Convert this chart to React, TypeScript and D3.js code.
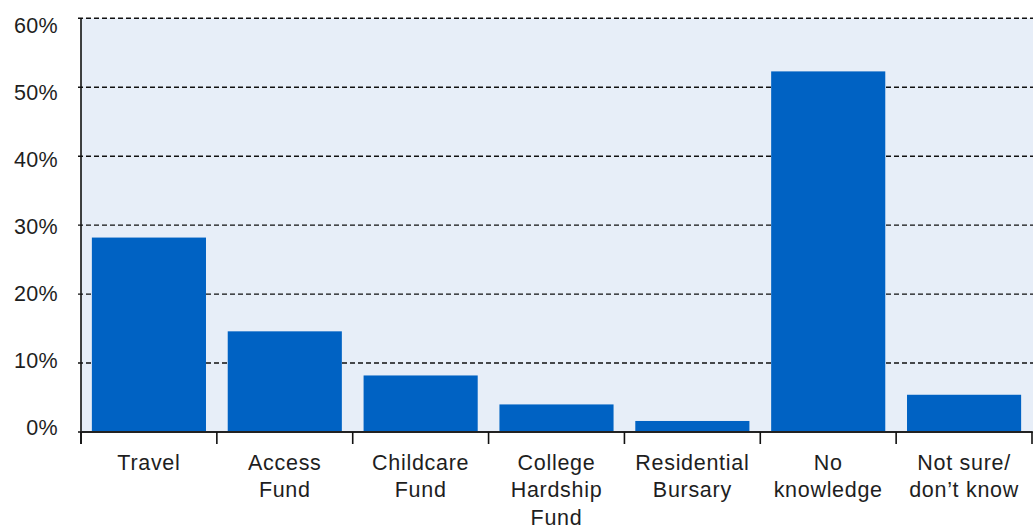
import React from "react";
import * as d3 from "d3";

const categories: string[][] = [
  ["Travel"],
  ["Access", "Fund"],
  ["Childcare", "Fund"],
  ["College", "Hardship", "Fund"],
  ["Residential", "Bursary"],
  ["No", "knowledge"],
  ["Not sure/", "don\u2019t know"],
];
const values: number[] = [28.2, 14.6, 8.2, 4.0, 1.6, 52.3, 5.4];
const yTicks: number[] = [0, 10, 20, 30, 40, 50, 60];

const W = 1033;
const H = 529;
const left = 81;
const right = 1032;
const top = 18.3;
const bottom = 432;
const FONT = "'Liberation Sans', Arial, Helvetica, sans-serif";

export default function App() {
  const x = d3
    .scaleBand<number>()
    .domain(d3.range(categories.length))
    .range([left, right])
    .paddingInner(0.16)
    .paddingOuter(0.08);
  const y = d3.scaleLinear().domain([0, 60]).range([bottom, top]);
  const yLabel = y.copy().range([427.5, 26]);
  const step = x.step();
  const boundaries = d3.range(categories.length + 1).map((i) => left + i * step);

  return (
    <svg
      width={W}
      height={H}
      style={{ position: "absolute", left: 0, top: 0, background: "#fff" }}
    >
      <rect x={left} y={top} width={W - left} height={bottom - top} fill="#e7eef8" />
      {yTicks.map((t) => (
        <line
          key={"g" + t}
          x1={left - 3}
          x2={W}
          y1={y(t)}
          y2={y(t)}
          stroke="#111"
          strokeWidth={1.4}
          strokeDasharray="5,3"
        />
      ))}
      {values.map((v, i) => (
        <rect
          key={"b" + i}
          x={x(i)!}
          y={y(v)}
          width={x.bandwidth()}
          height={y(0) - y(v)}
          fill="#0062c3"
        />
      ))}
      <line x1={left} x2={left} y1={top} y2={444} stroke="#111" strokeWidth={1.6} />
      <line x1={left} x2={right} y1={bottom} y2={bottom} stroke="#222" strokeWidth={2} />
      {boundaries.map((bx, i) => (
        <line key={"t" + i} x1={bx} x2={bx} y1={bottom} y2={444} stroke="#111" strokeWidth={1.6} />
      ))}
      {yTicks.map((t) => (
        <text
          key={"l" + t}
          x={58}
          y={yLabel(t)}
          textAnchor="end"
          dominantBaseline="central"
          fontFamily={FONT}
          fontSize={21.5}
          letterSpacing={0.3}
          fill="#1e1e1e"
        >
          {t}%
        </text>
      ))}
      {categories.map((lines, i) => (
        <text
          key={"c" + i}
          x={x(i)! + x.bandwidth() / 2}
          y={469.5}
          textAnchor="middle"
          fontFamily={FONT}
          fontSize={21.5}
          letterSpacing={0.7}
          fill="#1e1e1e"
        >
          {lines.map((ln, j) => (
            <tspan key={j} x={x(i)! + x.bandwidth() / 2} dy={j === 0 ? 0 : 27.5}>
              {ln}
            </tspan>
          ))}
        </text>
      ))}
    </svg>
  );
}
